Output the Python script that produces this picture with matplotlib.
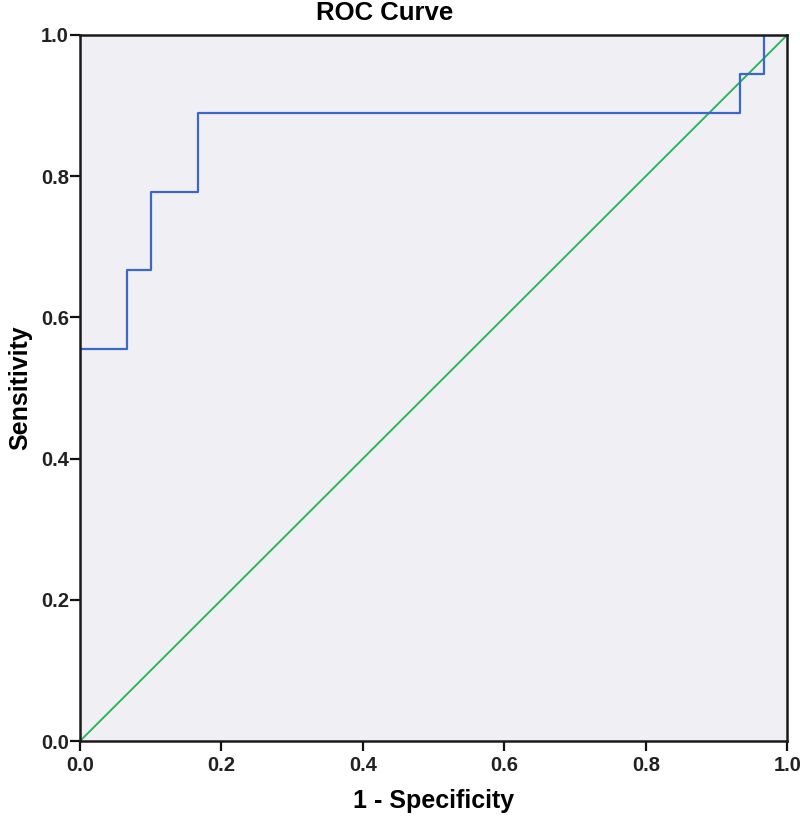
import matplotlib
matplotlib.use("Agg")
import matplotlib.pyplot as plt

# ROC step points (1 - specificity, sensitivity)
fpr = [0.0, 0.0, 0.0667, 0.0667, 0.1, 0.1, 0.1667, 0.1667, 0.9333, 0.9333, 0.9667, 0.9667, 1.0]
tpr = [0.0, 0.5556, 0.5556, 0.6667, 0.6667, 0.7778, 0.7778, 0.8889, 0.8889, 0.9444, 0.9444, 1.0, 1.0]
ref_line = [0.0, 1.0]
ticks = [0.0, 0.2, 0.4, 0.6, 0.8, 1.0]
tick_labels = ["0.0", "0.2", "0.4", "0.6", "0.8", "1.0"]

plt.rcParams["font.family"] = ["Liberation Sans", "DejaVu Sans"]

fig = plt.figure(figsize=(8, 8.23), dpi=100)
ax = fig.add_axes([0.1, 0.0996, 0.884, 0.8579])
ax.set_facecolor("#F0F0F4")

ax.plot(fpr, tpr, color="#3C67C6", linewidth=1.6, zorder=2.2)
ax.plot(ref_line, ref_line, color="#2DB45E", linewidth=1.4, zorder=2.1)

ax.set_xlim(0, 1)
ax.set_ylim(0, 1)
ax.set_xticks(ticks)
ax.set_yticks(ticks)
ax.set_xticklabels(tick_labels, fontsize=14.5, fontweight="bold", color="#222222")
ax.set_yticklabels(tick_labels, fontsize=14.5, fontweight="bold", color="#222222")
ax.tick_params(axis="x", direction="out", length=7, width=1.6, color="#111111", pad=4)
ax.tick_params(axis="y", direction="out", length=7, width=1.6, color="#111111", pad=1)

for side in ["left", "bottom", "top", "right"]:
    ax.spines[side].set_linewidth(1.8)
    ax.spines[side].set_color("#1A1A1A")
    ax.spines[side].set_zorder(3)

ax.set_xlabel("1 - Specificity", fontsize=18, fontweight="bold", labelpad=10)
ax.set_ylabel("Sensitivity", fontsize=18, fontweight="bold", labelpad=6)
fig.text(385 / 800, 1 - 13 / 823, "ROC Curve", fontsize=18.5, fontweight="bold",
         ha="center", va="center")

fig.savefig("out.png", dpi=100)
